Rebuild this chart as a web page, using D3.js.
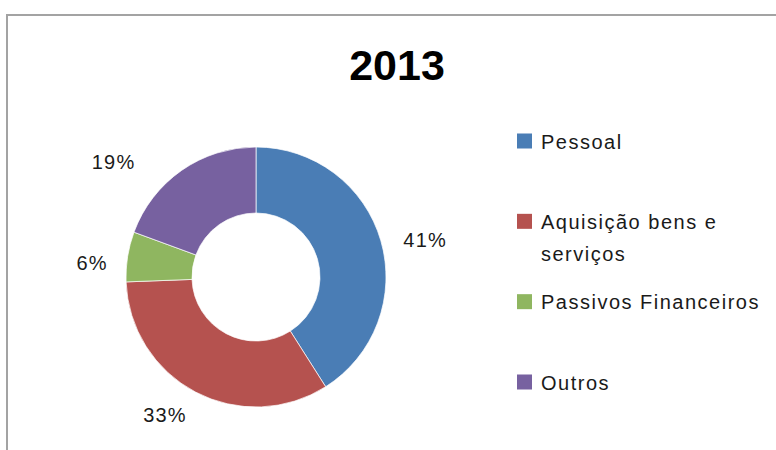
<!DOCTYPE html>
<html>
<head>
<meta charset="utf-8">
<script src="https://cdn.jsdelivr.net/npm/d3@7"></script>
<style>
  body { margin: 0; background: #fff; }
  svg { display: block; }
  text { font-family: "Liberation Sans", Arial, sans-serif; fill: #1a1a1a; }
</style>
</head>
<body>
<svg width="776" height="450"></svg>
<script>
var title = "2013";
var categories = ["Pessoal", "Aquisição bens e serviços", "Passivos Financeiros", "Outros"];
var legendLines = [["Pessoal"], ["Aquisição bens e", "serviços"], ["Passivos Financeiros"], ["Outros"]];
var values = [41, 33.4, 6.2, 19.4];
var colors = ["#4a7db5", "#b5524f", "#8fb660", "#7761a0"];

// hand placed labels in the original, so nudge from the arc
var labelNudge = [[4, 11], [-11, -14], [6, 13], [-44, 26]];

var svg = d3.select("svg"),
    width = +svg.attr("width"),
    height = +svg.attr("height");

var cx = 256, cy = 277, outerR = 130, innerR = 64, labelR = 172;

// chart frame (right and bottom are off the picture)
svg.append("path")
  .attr("d", "M7,460 V15 H790")
  .attr("fill", "none")
  .attr("stroke", "#a3a3a3")
  .attr("stroke-width", 2);

svg.append("text")
  .attr("x", 397)
  .attr("y", 80)
  .attr("text-anchor", "middle")
  .style("font-size", "43px")
  .style("font-weight", "bold")
  .style("fill", "#000")
  .text(title);

var pie = d3.pie().sort(null).value(d => d);
var arcs = pie(values);
var arc = d3.arc().innerRadius(innerR).outerRadius(outerR);
var labelArc = d3.arc().innerRadius(labelR).outerRadius(labelR);
var total = d3.sum(values);

var g = svg.append("g").attr("transform", "translate(" + cx + "," + cy + ")");

g.selectAll("path.slice")
  .data(arcs)
  .enter()
  .append("path")
  .attr("class", "slice")
  .attr("d", arc)
  .attr("fill", (d, i) => colors[i])
  .attr("stroke", "#fff")
  .attr("stroke-width", 0.7);

g.selectAll("text.pct")
  .data(arcs)
  .enter()
  .append("text")
  .attr("class", "pct")
  .attr("x", (d, i) => labelArc.centroid(d)[0] + labelNudge[i][0])
  .attr("y", (d, i) => labelArc.centroid(d)[1] + labelNudge[i][1])
  .attr("dy", "0.36em")
  .attr("text-anchor", "middle")
  .style("font-size", "20px")
  .style("letter-spacing", "1.2px")
  .text(d => Math.round(d.value / total * 100) + "%");

// legend
var legendY = d3.scalePoint().domain(categories).range([141, 382]);

var leg = svg.append("g")
  .selectAll("g")
  .data(categories)
  .enter()
  .append("g")
  .attr("transform", d => "translate(517," + legendY(d) + ")");

leg.append("rect")
  .attr("x", 0)
  .attr("y", -7.5)
  .attr("width", 15)
  .attr("height", 15)
  .attr("fill", (d, i) => colors[i]);

leg.append("text")
  .attr("x", 24)
  .attr("y", 7.5)
  .style("font-size", "20px")
  .style("letter-spacing", "1.5px")
  .selectAll("tspan")
  .data((d, i) => legendLines[i])
  .enter()
  .append("tspan")
  .attr("x", 24)
  .attr("dy", (d, i) => i === 0 ? 0 : 32)
  .text(d => d);
</script>
</body>
</html>
